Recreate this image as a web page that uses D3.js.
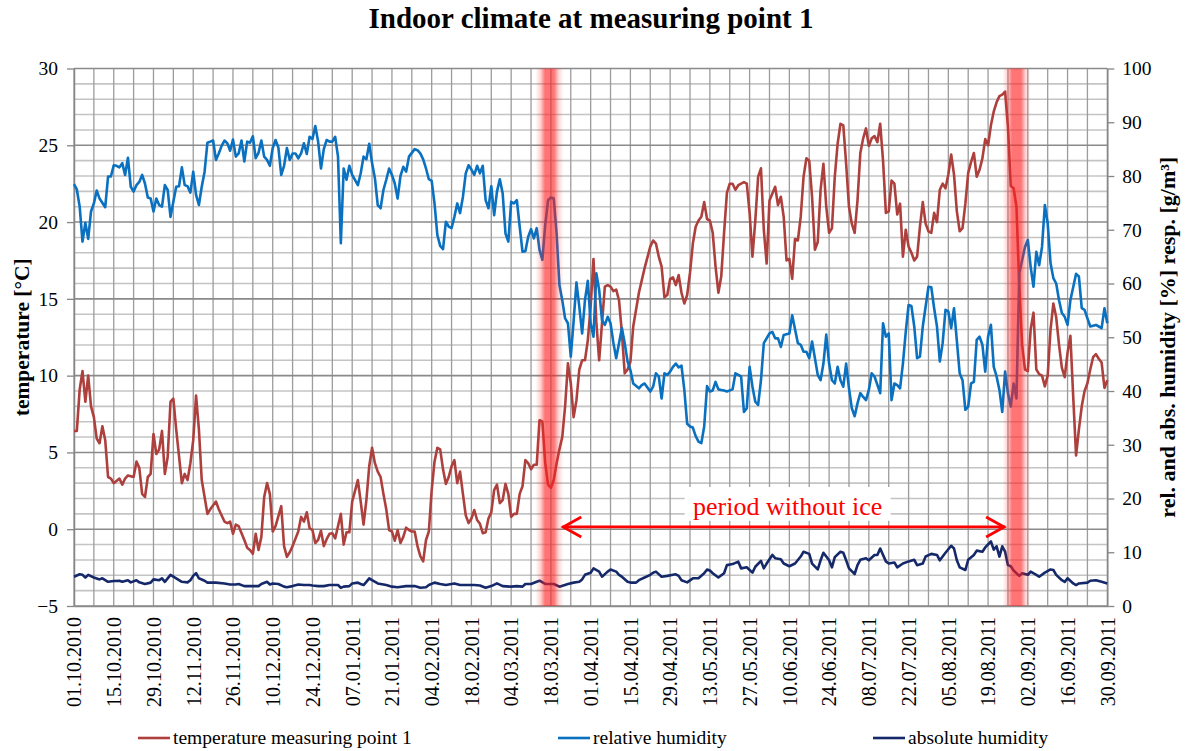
<!DOCTYPE html>
<html>
<head>
<meta charset="utf-8">
<script src="https://cdn.jsdelivr.net/npm/d3@7"></script>
<style>
  body { margin: 0; background: #fff; }
  svg { display: block; font-family: "Liberation Serif", "Times New Roman", serif; }
</style>
</head>
<body>
<div id="app"></div>
<script>
// chart data (day offsets from startDate, value)
const title = 'Indoor climate at measuring point 1';
const startDate = '2010-10-01';
const endDate = '2011-09-30';
const tempTicks = [-5, 0, 5, 10, 15, 20, 25, 30];
const humTicks = [0, 10, 20, 30, 40, 50, 60, 70, 80, 90, 100];
const labelStepDays = 14;
const gridStepDays = 7;
const seriesNames = ['temperature measuring point 1', 'relative humidity', 'absolute humidity'];
const iceBands = ['2011-03-17T12:00', '2011-08-29T00:00'];
const iceFreePeriod = ['2011-03-22', '2011-08-25'];
const iceFreeLabel = 'period without ice';

const temperature = [
	[0,6.4],[1,6.4],[2,9.1],[3,10.3],[4,8.3],[5,10.0],[6,8.0],[7,7.3],[8,5.9],[9,5.6],
	[10,6.7],[11,5.8],[12,3.4],[13,3.3],[14,3.0],[16,3.3],[17,2.9],[18,3.3],[19,3.5],[21,3.4],
	[22,4.4],[23,4.0],[24,2.3],[25,2.1],[26,3.4],[27,3.6],[28,6.2],[29,4.9],[30,5.2],[31,6.4],
	[32,3.6],[33,4.7],[34,8.3],[35,8.5],[36,6.5],[38,3.0],[39,3.6],[40,3.2],[41,4.3],[42,5.8],
	[43,8.7],[44,6.5],[45,3.2],[47,1.0],[48,1.3],[50,1.8],[51,1.3],[53,0.5],[54,0.4],[55,0.5],
	[56,-0.3],[57,0.3],[58,0.2],[60,-0.7],[61,-1.2],[62,-1.35],[63,-1.6],[64,-0.3],[65,-1.35],[66,-0.5],
	[67,2.1],[68,3.0],[69,2.3],[70,-0.15],[71,0.2],[73,1.5],[74,-1.1],[75,-1.8],[76,-1.5],[77,-1.1],
	[79,-0.15],[80,0.8],[81,0.5],[82,1.1],[83,0.06],[84,-0.05],[85,-0.9],[86,-0.7],[87,-0.1],[88,-1.1],
	[89,-0.65],[90,-0.3],[91,-0.26],[92,-0.6],[94,1.0],[95,-1.0],[96,-0.2],[97,-0.2],[98,1.8],[100,3.2],
	[101,1.8],[102,0.3],[103,1.9],[104,4.1],[105,5.3],[106,4.3],[107,3.75],[108,3.4],[109,2.3],[110,1.3],
	[111,-0.05],[112,-0.15],[113,-0.75],[114,-0.05],[115,-0.9],[116,-0.5],[117,0.1],[118,-0.05],[119,-0.15],[120,-0.15],
	[121,-1.1],[122,-1.75],[123,-2.1],[124,-0.7],[125,-0.15],[126,2.55],[127,4.4],[128,5.3],[129,5.2],[130,3.9],
	[131,2.95],[132,3.4],[133,4.1],[134,4.5],[135,3.0],[136,3.75],[137,2.3],[138,0.9],[139,0.4],[140,0.7],
	[141,1.25],[142,0.6],[143,0.35],[144,-0.26],[145,-0.2],[146,0.7],[147,1.1],[148,2.55],[149,2.9],[150,1.7],
	[151,1.9],[152,2.95],[153,2.3],[154,0.8],[155,1.0],[156,1.0],[157,2.3],[158,2.8],[159,4.5],[160,4.3],
	[161,3.9],[162,4.2],[163,4.2],[164,7.1],[165,7.0],[166,4.3],[167,2.9],[168,2.7],[169,3.2],[170,4.3],
	[171,5.2],[172,6.0],[173,8.0],[174,10.8],[175,9.5],[176,7.3],[177,8.4],[178,10.4],[179,11.0],[180,11.0],
	[181,12.3],[182,14.5],[183,17.6],[184,13.5],[185,11.0],[186,13.4],[187,15.8],[188,15.9],[189,15.8],[190,15.5],
	[191,15.6],[192,14.9],[193,12.8],[194,10.15],[195,10.4],[196,10.9],[197,13.2],[199,15.4],[201,17.0],[203,18.4],
	[204,18.8],[205,18.6],[206,17.75],[207,17.1],[208,15.1],[209,15.25],[210,16.3],[211,16.4],[212,15.9],[213,16.55],
	[214,15.4],[215,14.7],[216,15.25],[217,16.7],[218,18.6],[219,19.7],[220,20.1],[221,20.35],[222,21.3],[223,20.2],
	[224,20.1],[225,19.3],[226,17.1],[227,15.4],[228,16.45],[229,19.3],[230,21.9],[231,22.5],[232,22.5],[233,22.1],
	[234,22.4],[236,22.6],[237,22.5],[238,20.6],[239,17.75],[240,20.1],[241,22.95],[242,23.5],[243,19.5],[244,17.3],
	[245,21.4],[247,22.3],[248,21.1],[249,21.65],[250,20.35],[251,17.5],[252,17.6],[253,16.3],[254,18.9],[255,18.8],
	[256,20.35],[257,22.95],[258,24.15],[259,24.0],[260,21.65],[261,18.2],[262,18.7],[263,22.1],[264,23.8],[265,21.0],
	[266,19.3],[267,19.6],[268,22.95],[269,25.1],[270,26.4],[271,26.3],[272,23.8],[273,21.0],[274,19.9],[275,19.3],
	[276,21.4],[277,24.5],[278,25.45],[279,26.1],[280,24.95],[281,25.45],[282,25.6],[283,25.2],[284,26.4],[285,24.0],
	[286,20.6],[287,20.7],[288,22.7],[289,22.5],[290,20.5],[291,21.2],[292,17.75],[293,19.5],[294,18.4],[295,18.0],
	[296,17.5],[297,17.75],[298,19.7],[299,21.3],[300,19.9],[301,19.4],[302,19.3],[303,20.6],[304,20.0],[305,22.1],
	[306,22.5],[307,22.2],[308,23.1],[309,24.4],[310,23.1],[311,20.7],[312,19.4],[313,19.6],[314,21.2],[315,23.2],
	[316,23.9],[317,24.5],[318,22.95],[319,23.4],[320,24.15],[321,25.4],[322,25.0],[323,26.3],[324,27.2],[325,27.8],
	[326,28.2],[327,28.3],[328,28.5],[329,26.2],[330,22.35],[331,22.2],[332,21.0],[333,15.8],[334,12.0],[335,10.4],
	[336,10.3],[337,13.0],[338,14.1],[339,10.4],[340,10.1],[341,10.0],[342,9.3],[343,10.0],[344,13.0],[345,14.7],
	[346,13.8],[347,12.0],[348,10.5],[349,9.9],[350,11.5],[351,12.6],[352,8.6],[353,4.8],[354,6.5],[355,8.0],
	[356,9.0],[357,9.5],[358,10.4],[359,11.2],[360,11.4],[361,11.1],[362,10.85],[363,9.2],[364,9.7]
];

const relHumidity = [
	[0,78.5],[1,77.5],[2,74.3],[3,67.8],[4,71.3],[5,68.3],[6,73.4],[7,74.9],[8,77.3],[9,75.8],
	[11,74.2],[12,79.9],[13,79.9],[14,82.0],[15,81.9],[16,81.6],[17,82.4],[18,80.2],[19,83.4],[20,78.0],
	[21,77.1],[22,78.3],[23,78.9],[24,80.2],[25,78.6],[26,76.0],[27,75.8],[28,73.4],[29,75.8],[30,74.6],
	[31,74.3],[32,78.3],[33,77.4],[34,72.4],[35,75.2],[36,78.0],[37,78.1],[38,81.6],[39,78.3],[40,78.1],
	[41,76.9],[42,80.8],[43,76.5],[44,74.6],[45,78.0],[46,80.8],[47,86.2],[48,86.4],[49,86.6],[50,83.0],
	[51,84.2],[52,85.6],[53,86.6],[54,86.1],[55,84.7],[56,86.8],[57,83.6],[58,84.2],[59,86.6],[60,82.7],
	[61,86.4],[62,86.2],[63,87.4],[64,83.3],[65,84.3],[66,86.6],[67,83.6],[68,83.0],[69,81.9],[70,85.2],
	[71,86.7],[72,85.3],[73,80.2],[74,81.9],[75,85.2],[76,83.0],[77,84.2],[78,84.2],[79,83.3],[80,84.2],
	[81,86.1],[82,84.1],[83,87.3],[84,86.9],[85,89.3],[86,86.4],[87,81.4],[88,85.0],[89,86.7],[90,86.4],
	[91,86.4],[92,87.3],[93,83.6],[94,67.5],[95,81.4],[96,79.3],[97,81.9],[98,80.2],[100,78.3],[101,80.5],
	[102,83.6],[103,83.1],[104,86.0],[105,82.4],[106,79.6],[107,74.6],[108,74.0],[109,77.4],[110,79.3],[111,81.4],
	[112,80.2],[113,78.6],[114,75.8],[115,80.0],[116,81.7],[117,80.8],[118,83.6],[119,84.3],[120,85.0],[121,84.8],
	[122,84.2],[123,83.1],[124,81.4],[125,79.4],[126,79.1],[127,74.9],[128,69.0],[129,67.0],[130,66.4],[131,71.5],
	[132,70.6],[133,70.3],[134,72.4],[135,74.9],[136,73.1],[137,76.1],[138,80.5],[139,82.0],[140,81.2],[141,80.2],
	[142,81.9],[143,80.5],[144,81.9],[145,75.5],[146,74.0],[147,78.1],[148,72.7],[149,77.1],[150,79.4],[151,76.8],
	[152,69.3],[153,67.8],[154,75.2],[155,74.9],[156,75.5],[157,70.6],[158,65.9],[159,66.0],[160,68.7],[161,70.1],
	[162,68.4],[163,70.3],[164,66.2],[165,64.4],[166,70.9],[167,75.5],[168,76.0],[169,75.8],[170,69.3],[171,59.7],
	[172,56.9],[173,53.5],[174,52.6],[175,46.4],[176,53.0],[177,60.2],[178,55.7],[179,50.7],[180,56.9],[181,60.5],
	[182,52.6],[183,50.1],[184,61.9],[185,58.8],[186,53.2],[187,52.3],[188,53.8],[189,52.6],[190,49.0],[191,46.1],
	[193,51.7],[194,48.9],[195,45.5],[196,43.9],[197,41.4],[199,40.5],[200,41.1],[201,41.4],[203,39.9],[204,40.8],
	[205,43.3],[206,42.7],[207,38.6],[208,43.3],[209,43.0],[210,43.6],[211,44.5],[212,45.1],[213,44.4],[214,44.7],
	[215,40.2],[216,33.9],[217,33.4],[218,33.2],[219,31.6],[220,30.6],[221,30.3],[222,33.4],[223,40.9],[224,39.9],
	[225,40.1],[226,41.7],[227,40.3],[228,40.2],[229,40.1],[230,39.9],[232,40.3],[233,43.3],[235,42.7],[236,36.1],
	[237,36.8],[238,44.5],[239,40.8],[240,38.0],[241,37.4],[242,42.0],[243,48.9],[245,50.7],[246,51.0],[247,49.8],
	[248,49.8],[249,48.2],[250,50.4],[252,50.7],[253,54.1],[255,48.9],[256,48.6],[257,47.3],[258,47.3],[259,46.1],
	[260,49.2],[262,43.0],[263,42.0],[264,45.1],[265,50.5],[266,45.1],[267,42.0],[268,41.4],[269,44.5],[270,42.0],
	[271,40.8],[272,45.1],[273,40.5],[274,36.8],[275,35.3],[276,37.7],[277,39.6],[278,38.9],[279,38.3],[280,40.2],
	[281,43.3],[282,42.7],[284,39.6],[285,52.6],[286,50.1],[287,50.7],[288,38.3],[289,41.4],[290,41.1],[291,40.5],
	[292,45.1],[293,51.0],[294,56.0],[295,55.8],[296,52.0],[297,46.1],[298,46.4],[299,52.0],[301,59.4],[302,59.3],
	[303,55.4],[304,52.0],[305,45.5],[306,48.9],[307,55.1],[308,54.8],[309,51.7],[310,55.4],[312,43.3],[313,42.0],
	[314,36.5],[315,37.1],[316,41.4],[317,41.7],[318,49.5],[319,50.1],[320,48.6],[321,43.6],[322,50.1],[323,52.3],
	[324,44.5],[325,42.7],[326,40.2],[327,36.1],[328,43.6],[329,39.6],[330,37.1],[331,41.4],[332,38.6],[333,61.9],
	[335,66.8],[336,68.1],[337,63.1],[338,59.4],[339,65.9],[340,63.4],[341,66.8],[342,74.6],[343,71.2],[344,63.8],
	[345,61.0],[346,60.0],[347,56.9],[348,54.5],[349,53.8],[350,52.3],[351,56.9],[353,61.8],[354,61.3],[355,55.4],
	[356,55.1],[357,53.5],[358,52.0],[360,52.3],[361,52.0],[362,51.7],[363,55.4],[364,52.6]
];

const absHumidity = [
	[0,5.45],[2,5.9],[3,5.8],[4,5.3],[5,5.8],[7,5.3],[9,4.95],[10,5.15],[12,4.5],[14,4.65],
	[16,4.7],[17,4.5],[19,4.8],[20,4.4],[22,4.8],[23,4.4],[25,4.1],[27,4.35],[28,4.95],[30,4.8],
	[31,5.15],[32,4.5],[33,5.15],[34,5.8],[36,5.15],[38,4.5],[40,4.4],[41,4.8],[42,5.6],[43,6.1],
	[44,5.15],[46,4.7],[47,4.35],[49,4.35],[50,4.35],[53,4.2],[55,4.0],[57,4.0],[58,4.1],[60,3.7],
	[61,3.7],[63,3.7],[65,3.7],[66,4.1],[68,4.5],[69,4.0],[70,4.2],[72,4.1],[74,3.6],[75,3.5],
	[77,3.7],[79,4.0],[81,3.9],[83,3.9],[84,3.8],[86,3.7],[88,3.7],[90,3.9],[91,3.9],[93,3.9],
	[94,3.4],[95,3.6],[97,3.7],[98,4.2],[100,4.35],[101,4.1],[102,3.9],[103,4.5],[104,5.15],[105,4.8],
	[107,4.2],[110,3.9],[112,3.6],[114,3.5],[117,3.7],[120,3.7],[122,3.4],[124,3.5],[125,3.9],[127,4.35],
	[129,4.1],[131,3.9],[134,4.2],[136,3.9],[138,3.9],[141,3.9],[143,3.8],[145,3.4],[147,3.7],[149,4.2],
	[151,3.7],[154,3.6],[156,3.7],[158,3.6],[159,4.1],[161,4.1],[163,4.5],[164,4.7],[166,4.1],[168,4.1],
	[169,4.1],[171,3.6],[174,4.1],[176,4.35],[178,4.5],[179,4.95],[180,5.8],[182,6.2],[183,7.0],[185,6.4],
	[186,5.45],[188,6.4],[189,6.8],[191,6.4],[192,5.8],[193,5.45],[195,4.5],[196,4.35],[198,4.35],[199,4.8],
	[201,5.3],[203,5.8],[204,6.2],[205,6.4],[207,5.45],[209,5.6],[211,5.8],[212,5.9],[213,5.6],[214,4.8],
	[216,4.4],[218,5.15],[219,5.15],[220,5.15],[222,6.1],[223,6.8],[224,6.6],[225,6.1],[227,5.3],[229,6.1],
	[230,7.6],[232,7.8],[234,8.25],[235,7.0],[237,7.2],[238,6.7],[239,6.2],[240,7.3],[242,8.4],[243,7.0],
	[244,7.9],[246,9.5],[247,8.9],[249,8.7],[250,7.9],[252,7.4],[254,7.9],[256,9.2],[257,10.1],[259,9.7],
	[260,7.9],[262,6.8],[263,8.5],[264,9.9],[266,8.5],[267,7.2],[268,9.1],[270,10.1],[271,9.9],[272,8.5],
	[273,7.0],[275,5.95],[276,7.6],[277,8.6],[279,8.9],[280,8.5],[282,9.5],[283,9.5],[284,10.7],[286,8.3],
	[287,7.9],[289,8.1],[290,7.2],[292,7.9],[294,8.3],[296,8.6],[297,7.6],[299,7.9],[300,9.2],[302,9.7],
	[304,9.5],[305,8.5],[307,9.9],[309,11.2],[310,10.7],[311,8.5],[312,7.2],[314,6.7],[315,8.6],[317,9.5],
	[318,10.3],[320,10.1],[321,10.9],[323,12.0],[324,10.5],[325,11.1],[326,9.2],[327,11.1],[328,10.1],[329,7.6],
	[330,7.4],[331,6.6],[333,5.6],[334,6.1],[336,5.8],[337,6.4],[339,5.8],[340,5.45],[342,6.2],[344,6.8],
	[345,6.7],[346,5.8],[348,4.8],[349,4.5],[350,5.15],[352,4.2],[353,3.9],[354,4.2],[357,4.35],[358,4.7],
	[360,4.8],[362,4.5],[364,4.2]
];

const COLORS = ['#ad403d', '#0a70c0', '#15296a'];
const W = 1185, H = 751;
const plot = { left: 74, right: 1107.3, top: 68.5, bottom: 606 };

const parse = d3.utcParse('%Y-%m-%d');
const parseT = d3.utcParse('%Y-%m-%dT%H:%M');
const t0 = parse(startDate), t1 = parse(endDate);
const dayOf = d => d3.utcDay.offset(t0, d);
const nDays = d3.utcDay.count(t0, t1);

const x = d3.scaleUtc().domain([t0, t1]).range([plot.left, plot.right]);
const yT = d3.scaleLinear().domain([-5, 30]).range([plot.bottom, plot.top]);
const yH = d3.scaleLinear().domain([0, 100]).range([plot.bottom, plot.top]);

const svg = d3.select('#app').append('svg')
	.attr('width', W)
	.attr('height', H);

svg.append('rect').attr('width', W).attr('height', H).attr('fill', '#fff');

// gridlines
const grid = svg.append('g');
grid.selectAll('line.minor')
	.data(d3.range(-5, 31).filter(v => v % 5 !== 0))
	.enter().append('line')
		.attr('x1', plot.left).attr('x2', plot.right)
		.attr('y1', d => yT(d)).attr('y2', d => yT(d))
		.attr('stroke', '#c4c4c4').attr('stroke-width', 1.6);

const weekDays = d3.range(0, nDays + 1, gridStepDays).map(dayOf);
grid.selectAll('line.week')
	.data(weekDays)
	.enter().append('line')
		.attr('x1', d => x(d)).attr('x2', d => x(d))
		.attr('y1', plot.top).attr('y2', plot.bottom)
		.attr('stroke', '#9c9c9c').attr('stroke-width', 1.3);

grid.selectAll('line.major')
	.data(tempTicks)
	.enter().append('line')
		.attr('x1', plot.left).attr('x2', plot.right)
		.attr('y1', d => yT(d)).attr('y2', d => yT(d))
		.attr('stroke', '#8a8a8a').attr('stroke-width', 1.6);

// axes
const styleAxis = g => {
	g.select('.domain').attr('stroke', '#868686').attr('stroke-width', 1.5);
	g.selectAll('.tick line').attr('stroke', '#868686').attr('stroke-width', 1.3);
	g.selectAll('.tick text').attr('fill', '#000')
		.style('font-family', '"Liberation Serif", "Times New Roman", serif')
		.style('font-size', '19.5px');
};

svg.append('g')
	.attr('transform', `translate(${plot.left},0)`)
	.call(d3.axisLeft(yT).tickValues(tempTicks).tickSize(7).tickPadding(9).tickSizeOuter(0))
	.call(styleAxis);

svg.append('g')
	.attr('transform', `translate(${plot.right},0)`)
	.call(d3.axisRight(yH).tickValues(humTicks).tickSize(7).tickPadding(8).tickSizeOuter(0))
	.call(styleAxis);

const labelDays = d3.range(0, nDays + 1, labelStepDays).map(dayOf);
const xAxis = svg.append('g')
	.attr('transform', `translate(0,${plot.bottom})`)
	.call(d3.axisBottom(x).tickValues(labelDays).tickFormat(d3.utcFormat('%d.%m.%Y')).tickSize(0).tickSizeOuter(0))
	.call(styleAxis);
xAxis.select('.domain').attr('stroke', '#8a8a8a');
xAxis.selectAll('.tick text')
	.attr('transform', 'rotate(-90)')
	.attr('x', -11)
	.attr('y', 0)
	.attr('dy', '0.34em')
	.style('text-anchor', 'end')
	.style('font-size', '20px');

// series
const line = yScale => d3.line()
	.x(d => x(dayOf(d[0])))
	.y(d => yScale(d[1]));

const series = [
	{ data: temperature, y: yT },
	{ data: relHumidity, y: yH },
	{ data: absHumidity, y: yH }
];
series.forEach((s, i) => {
	svg.append('path')
		.datum(s.data)
		.attr('fill', 'none')
		.attr('stroke', COLORS[i])
		.attr('stroke-width', 2.6)
		.attr('stroke-linejoin', 'round')
		.attr('d', line(s.y));
});

// ice bands
const defs = svg.append('defs');
const grad = defs.append('linearGradient').attr('id', 'band');
[[0, 0], [0.18, 0.2], [0.34, 0.62], [0.66, 0.62], [0.82, 0.2], [1, 0]].forEach(([o, a]) => {
	grad.append('stop').attr('offset', o).attr('stop-color', '#ff2020').attr('stop-opacity', a);
});
const BAND_W = 28;
svg.selectAll('rect.band')
	.data(iceBands.map(parseT))
	.enter().append('rect')
		.attr('x', d => x(d) - BAND_W / 2)
		.attr('y', plot.top)
		.attr('width', BAND_W)
		.attr('height', plot.bottom - plot.top)
		.attr('fill', 'url(#band)');

// ice free arrow
const ax0 = x(parse(iceFreePeriod[0])), ax1 = x(parse(iceFreePeriod[1]));
const ay = yT(0.15);
const arrow = svg.append('g').attr('stroke', '#ff0000').attr('stroke-width', 2.8).attr('fill', 'none');
arrow.append('line').attr('x1', ax0).attr('x2', ax1).attr('y1', ay).attr('y2', ay);
arrow.append('path').attr('d', `M${ax0 + 19},${ay - 10}L${ax0 + 1},${ay}L${ax0 + 19},${ay + 10}`);
arrow.append('path').attr('d', `M${ax1 - 19},${ay - 10}L${ax1 - 1},${ay}L${ax1 - 19},${ay + 10}`);

const lblX = (ax0 + ax1) / 2 + 4;
svg.append('rect')
	.attr('x', lblX - 103).attr('y', yT(2.75))
	.attr('width', 206).attr('height', yT(0.55) - yT(2.75))
	.attr('fill', '#fff');
svg.append('text')
	.attr('x', lblX).attr('y', yT(0.95))
	.attr('text-anchor', 'middle')
	.attr('fill', '#ff0000')
	.style('font-size', '26px')
	.text(iceFreeLabel);

// titles
svg.append('text')
	.attr('x', 591).attr('y', 28)
	.attr('text-anchor', 'middle')
	.style('font-size', '29px').style('font-weight', 'bold')
	.text(title);

svg.append('text')
	.attr('transform', `translate(29,${(plot.top + plot.bottom) / 2}) rotate(-90)`)
	.attr('text-anchor', 'middle')
	.style('font-size', '21.5px').style('font-weight', 'bold')
	.text('temperature [°C]');

svg.append('text')
	.attr('transform', `translate(1175,${(plot.top + plot.bottom) / 2}) rotate(-90)`)
	.attr('text-anchor', 'middle')
	.style('font-size', '22px').style('font-weight', 'bold')
	.text('rel. and abs. humidity [%] resp. [g/m³]');

// legend
const legendX = [138, 558, 873];
const legend = svg.append('g');
seriesNames.forEach((name, i) => {
	const g = legend.append('g').attr('transform', `translate(${legendX[i]},738)`);
	g.append('line').attr('x1', 0).attr('x2', 32).attr('y1', 0).attr('y2', 0)
		.attr('stroke', COLORS[i]).attr('stroke-width', 2.6);
	g.append('text').attr('x', 35).attr('y', 0).attr('dy', '0.33em')
		.style('font-size', '19.5px')
		.text(name);
});
</script>
</body>
</html>
